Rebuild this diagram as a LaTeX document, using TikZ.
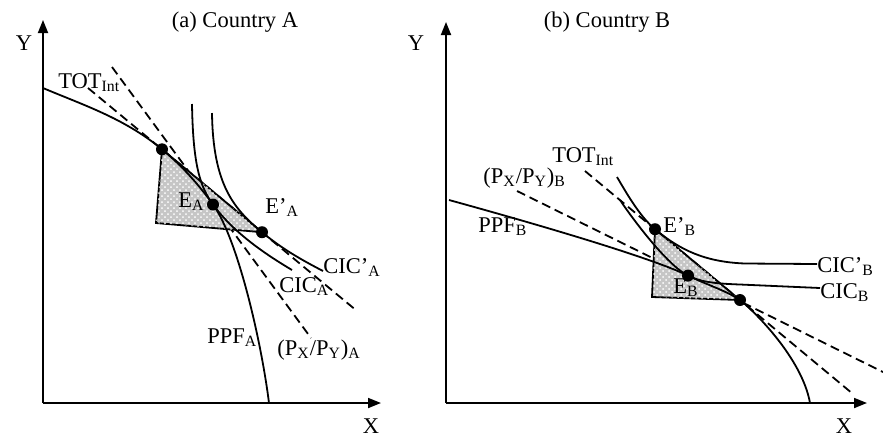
\documentclass[tikz,border=0pt]{standalone}
\usepackage{fontspec}
\setmainfont{Liberation Serif}
\usetikzlibrary{arrows.meta,patterns}

\begin{document}
\begin{tikzpicture}[
    x=0.5pt, y=-0.5pt,
    every node/.style={inner sep=0pt, font=\fontsize{11.25}{13}\selectfont},
    axis/.style={-{Triangle[length=6.5pt,width=5pt]}, line width=0.9pt},
    curve/.style={line width=0.9pt},
    price/.style={line width=0.9pt, dash pattern=on 4.5pt off 2.5pt},
    trade/.style={draw, line width=0.9pt, fill=gray!45, postaction={pattern=crosshatch dots, pattern color=white}},
    dot/.style={circle, fill, minimum size=6pt, inner sep=0pt},
    lbl/.style={anchor=base west}
]
\useasboundingbox (0,0) rectangle (883,436);

% (a) Country A
\node[anchor=base] (titleA) at (235,27) {(a) Country A};
\coordinate (oA) at (43,403);
\coordinate (yA) at (43,20);
\coordinate (xA) at (381,403);
\draw[axis] (oA) -- (yA);
\draw[axis] (oA) -- (xA);
\node[anchor=base] (labYA) at (24,50) {Y};
\node[anchor=base] (labXA) at (371,433) {X};

% points of A
\coordinate (PA) at (162,149.3);
\coordinate (EA) at (213,204.5);
\coordinate (EpA) at (262,232.2);
\coordinate (cornerA) at (156,223);

% price lines
\coordinate (totA1) at (88,88);
\coordinate (totA2) at (357,311);
\coordinate (autA1) at (112,67);
\coordinate (autA2) at (311,338);
\draw[price] (totA1) -- (totA2);
\draw[price] (autA1) -- (autA2);

% trade triangle
\path[trade] (PA) -- (cornerA) -- (EpA) -- cycle;

% PPF and CICs
\draw[curve] (43,88) .. controls (83,105) and (124,118) .. (PA)
    .. controls (179,163.3) and (197,182) .. (EA)
    .. controls (237,237.2) and (261,339) .. (269,403);
\draw[curve] (192,104) .. controls (193,165) and (200,186.8) .. (EA)
    .. controls (232,230.4) and (260,251) .. (292,270);
\draw[curve] (212,113) .. controls (213,185) and (234,209.1) .. (EpA)
    .. controls (282,248.7) and (300,259) .. (323,271);

\node[dot] (dotPA) at (PA) {};
\node[dot] (dotEA) at (EA) {};
\node[dot] (dotEpA) at (EpA) {};

\node[lbl] (totLabA) at (58,88) {TOT\textsubscript{Int}};
\node[lbl] (eLabA) at (178,207) {E\textsubscript{A}};
\node[lbl] (epLabA) at (265,213) {E’\textsubscript{A}};
\node[lbl] (cicpLabA) at (323,273) {CIC’\textsubscript{A}};
\node[lbl] (cicLabA) at (279,292) {CIC\textsubscript{A}};
\node[lbl] (ppfLabA) at (207,343) {PPF\textsubscript{A}};
\node[lbl] (autLabA) at (277,355) {(P\textsubscript{X}/P\textsubscript{Y})\textsubscript{A}};

% (b) Country B
\node[anchor=base] (titleB) at (607,27) {(b) Country B};
\coordinate (oB) at (446,403);
\coordinate (yB) at (446,22);
\coordinate (xB) at (867,403);
\draw[axis] (oB) -- (yB);
\draw[axis] (oB) -- (xB);
\node[anchor=base] (labYB) at (416,50) {Y};
\node[anchor=base] (labXB) at (844,433) {X};

% points of B
\coordinate (PB) at (740,300);
\coordinate (EB) at (688,275.6);
\coordinate (EpB) at (655,229.2);
\coordinate (cornerB) at (652,297);

% price lines
\coordinate (totB1) at (585,171);
\coordinate (totB2) at (853,394);
\coordinate (autB1) at (517,191);
\coordinate (autB2) at (883,372);
\draw[price] (totB1) -- (totB2);
\draw[price] (autB1) -- (autB2);

% trade triangle
\path[trade] (EpB) -- (cornerB) -- (PB) -- cycle;

% PPF and CICs
\draw[curve] (449,200) .. controls (529,222) and (650,257) .. (EB)
    .. controls (705,284) and (727,291) .. (PB)
    .. controls (754,311) and (802,358) .. (810,403);
\draw[curve] (617,177) .. controls (627,194) and (640,216.7) .. (EpB)
    .. controls (680,250) and (705,262) .. (745,263.5) -- (817,264);
\draw[curve] (620,200) .. controls (634,221) and (668,265.7) .. (EB)
    .. controls (700,281.5) and (712,283.5) .. (740,284.5) -- (820,288);

\node[dot] (dotPB) at (PB) {};
\node[dot] (dotEB) at (EB) {};
\node[dot] (dotEpB) at (EpB) {};

\node[lbl] (totLabB) at (552,162) {TOT\textsubscript{Int}};
\node[lbl] (autLabB) at (483,183) {(P\textsubscript{X}/P\textsubscript{Y})\textsubscript{B}};
\node[lbl] (ppfLabB) at (478,232) {PPF\textsubscript{B}};
\node[lbl] (epLabB) at (663,232) {E’\textsubscript{B}};
\node[lbl] (eLabB) at (673,293) {E\textsubscript{B}};
\node[lbl] (cicpLabB) at (817,272) {CIC’\textsubscript{B}};
\node[lbl] (cicLabB) at (820,298) {CIC\textsubscript{B}};
\end{tikzpicture}
\end{document}
